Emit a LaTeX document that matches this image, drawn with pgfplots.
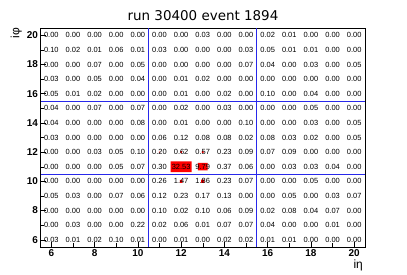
\documentclass[border=0pt]{standalone}
\usepackage{fontspec}
\setmainfont{Liberation Sans}
\newfontfamily\dejavu{DejaVu Sans}
\usepackage{pgfplots}
\pgfplotsset{compat=1.18}
\definecolor{rootblue}{RGB}{40,40,235}
\begin{document}
\begin{tikzpicture}
\useasboundingbox (-40.5bp,-28bp) rectangle (366.5bp,247bp);
\begin{axis}[
 scale only axis, width=324.5bp, height=219bp,
 xmin=5.5, xmax=20.5, ymin=5.5, ymax=20.5,
 xtick={6,8,...,20}, ytick={6,8,...,20},
 minor xtick={7,9,...,19}, minor ytick={7,9,...,19},
 xtick pos=bottom, ytick pos=left, tick align=inside,
 major tick length=5bp, minor tick length=3.5bp,
 tick style={black, line width=0.4pt},
 ticklabel style={font=\fontsize{10}{11}\selectfont\bfseries},
 yticklabel style={xshift=1bp},
 xticklabel style={yshift=1bp},
 /pgf/number format/assume math mode=true,
 axis line style={black, line width=0.5pt},
 clip=false,
]
% red boxes (size from content)
\addplot[fill=red, draw=none] coordinates {(11.51,10.63) (12.49,10.63) (12.49,11.37) (11.51,11.37) (11.51,10.63)};
\addplot[fill=red, draw=none] coordinates {(12.78,10.74) (13.22,10.74) (13.22,11.26) (12.78,11.26) (12.78,10.74)};
\addplot[fill=red, draw=none] coordinates {(11.94,9.90) (12.06,9.90) (12.06,10.10) (11.94,10.10) (11.94,9.90)};
\addplot[fill=red, draw=none] coordinates {(12.93,9.89) (13.07,9.89) (13.07,10.11) (12.93,10.11) (12.93,9.89)};
\addplot[fill=red, draw=none] coordinates {(11.96,11.94) (12.04,11.94) (12.04,12.06) (11.96,12.06) (11.96,11.94)};
\addplot[fill=red, draw=none] coordinates {(12.96,11.94) (13.04,11.94) (13.04,12.06) (12.96,12.06) (12.96,11.94)};
\addplot[fill=red, draw=none] coordinates {(10.975,11.96) (11.025,11.96) (11.025,12.04) (10.975,12.04) (10.975,11.96)};
% blue tower boundaries
\addplot[rootblue, line width=0.8pt] coordinates {(10.5,5.5) (10.5,20.5)};
\addplot[rootblue, line width=0.8pt] coordinates {(15.5,5.5) (15.5,20.5)};
\addplot[rootblue, line width=0.8pt] coordinates {(5.5,10.5) (20.5,10.5)};
\addplot[rootblue, line width=0.8pt] coordinates {(5.5,15.5) (20.5,15.5)};
% cell contents
\addplot[only marks, mark=*, mark size=0pt, mark options={draw=none, fill=none},
 nodes near coords, point meta=explicit symbolic,
 nodes near coords style={anchor=center, inner sep=0pt, font=\fontsize{7.5}{8}\selectfont, text=black}]
 table[row sep=\\, x=x, y=y, meta=v] {
x y v\\
6 20 0.00\\ 7 20 0.00\\ 8 20 0.00\\ 9 20 0.00\\ 10 20 0.00\\ 11 20 0.00\\ 12 20 0.00\\ 13 20 0.03\\ 14 20 0.00\\ 15 20 0.00\\ 16 20 0.02\\ 17 20 0.01\\ 18 20 0.00\\ 19 20 0.00\\ 20 20 0.00\\
6 19 0.10\\ 7 19 0.02\\ 8 19 0.01\\ 9 19 0.06\\ 10 19 0.01\\ 11 19 0.03\\ 12 19 0.00\\ 13 19 0.00\\ 14 19 0.00\\ 15 19 0.03\\ 16 19 0.05\\ 17 19 0.01\\ 18 19 0.01\\ 19 19 0.00\\ 20 19 0.00\\
6 18 0.00\\ 7 18 0.00\\ 8 18 0.07\\ 9 18 0.00\\ 10 18 0.05\\ 11 18 0.00\\ 12 18 0.00\\ 13 18 0.00\\ 14 18 0.00\\ 15 18 0.07\\ 16 18 0.04\\ 17 18 0.00\\ 18 18 0.03\\ 19 18 0.00\\ 20 18 0.05\\
6 17 0.03\\ 7 17 0.00\\ 8 17 0.05\\ 9 17 0.00\\ 10 17 0.04\\ 11 17 0.00\\ 12 17 0.01\\ 13 17 0.02\\ 14 17 0.00\\ 15 17 0.00\\ 16 17 0.00\\ 17 17 0.00\\ 18 17 0.00\\ 19 17 0.00\\ 20 17 0.00\\
6 16 0.05\\ 7 16 0.01\\ 8 16 0.02\\ 9 16 0.00\\ 10 16 0.00\\ 11 16 0.00\\ 12 16 0.01\\ 13 16 0.00\\ 14 16 0.02\\ 15 16 0.00\\ 16 16 0.10\\ 17 16 0.00\\ 18 16 0.04\\ 19 16 0.00\\ 20 16 0.00\\
6 15 0.04\\ 7 15 0.00\\ 8 15 0.07\\ 9 15 0.00\\ 10 15 0.07\\ 11 15 0.00\\ 12 15 0.02\\ 13 15 0.00\\ 14 15 0.03\\ 15 15 0.00\\ 16 15 0.00\\ 17 15 0.00\\ 18 15 0.05\\ 19 15 0.00\\ 20 15 0.00\\
6 14 0.04\\ 7 14 0.00\\ 8 14 0.00\\ 9 14 0.00\\ 10 14 0.08\\ 11 14 0.00\\ 12 14 0.01\\ 13 14 0.00\\ 14 14 0.00\\ 15 14 0.10\\ 16 14 0.00\\ 17 14 0.00\\ 18 14 0.03\\ 19 14 0.00\\ 20 14 0.05\\
6 13 0.03\\ 7 13 0.00\\ 8 13 0.00\\ 9 13 0.00\\ 10 13 0.00\\ 11 13 0.06\\ 12 13 0.12\\ 13 13 0.08\\ 14 13 0.08\\ 15 13 0.02\\ 16 13 0.08\\ 17 13 0.03\\ 18 13 0.02\\ 19 13 0.00\\ 20 13 0.05\\
6 12 0.00\\ 7 12 0.00\\ 8 12 0.03\\ 9 12 0.05\\ 10 12 0.10\\ 11 12 0.20\\ 12 12 0.62\\ 13 12 0.57\\ 14 12 0.23\\ 15 12 0.09\\ 16 12 0.07\\ 17 12 0.09\\ 18 12 0.00\\ 19 12 0.00\\ 20 12 0.00\\
6 11 0.00\\ 7 11 0.00\\ 8 11 0.00\\ 9 11 0.05\\ 10 11 0.07\\ 11 11 0.30\\ 12 11 32.53\\ 13 11 9.79\\ 14 11 0.37\\ 15 11 0.06\\ 16 11 0.00\\ 17 11 0.03\\ 18 11 0.03\\ 19 11 0.04\\ 20 11 0.00\\
6 10 0.00\\ 7 10 0.00\\ 8 10 0.00\\ 9 10 0.00\\ 10 10 0.00\\ 11 10 0.26\\ 12 10 1.47\\ 13 10 1.86\\ 14 10 0.23\\ 15 10 0.07\\ 16 10 0.00\\ 17 10 0.00\\ 18 10 0.05\\ 19 10 0.00\\ 20 10 0.00\\
6 9 0.05\\ 7 9 0.03\\ 8 9 0.00\\ 9 9 0.07\\ 10 9 0.06\\ 11 9 0.12\\ 12 9 0.23\\ 13 9 0.17\\ 14 9 0.13\\ 15 9 0.00\\ 16 9 0.00\\ 17 9 0.05\\ 18 9 0.00\\ 19 9 0.03\\ 20 9 0.07\\
6 8 0.00\\ 7 8 0.00\\ 8 8 0.00\\ 9 8 0.00\\ 10 8 0.00\\ 11 8 0.10\\ 12 8 0.02\\ 13 8 0.10\\ 14 8 0.06\\ 15 8 0.09\\ 16 8 0.02\\ 17 8 0.08\\ 18 8 0.04\\ 19 8 0.07\\ 20 8 0.00\\
6 7 0.00\\ 7 7 0.03\\ 8 7 0.00\\ 9 7 0.00\\ 10 7 0.22\\ 11 7 0.02\\ 12 7 0.06\\ 13 7 0.01\\ 14 7 0.07\\ 15 7 0.07\\ 16 7 0.04\\ 17 7 0.00\\ 18 7 0.00\\ 19 7 0.01\\ 20 7 0.00\\
6 6 0.03\\ 7 6 0.01\\ 8 6 0.02\\ 9 6 0.10\\ 10 6 0.01\\ 11 6 0.00\\ 12 6 0.01\\ 13 6 0.00\\ 14 6 0.02\\ 15 6 0.02\\ 16 6 0.01\\ 17 6 0.01\\ 18 6 0.00\\ 19 6 0.00\\ 20 6 0.00\\
};
\end{axis}
\node[font=\dejavu\fontsize{13.5}{15}\selectfont] at (162.5bp,231bp) {run 30400 event 1894};
\node[rotate=90, anchor=south east, inner sep=0pt, font=\fontsize{12}{14}\selectfont] at (-18.5bp,219bp) {iφ};
\node[anchor=north east, inner sep=0pt, font=\fontsize{12}{14}\selectfont] at (322.5bp,-13bp) {iη};
\end{tikzpicture}
\end{document}
